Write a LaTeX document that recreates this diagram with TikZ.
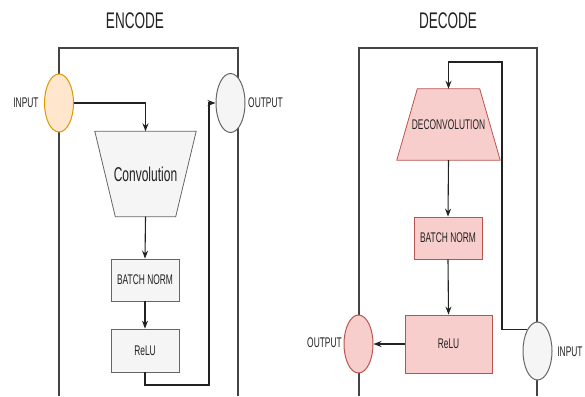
\documentclass[tikz,border=0pt]{standalone}
\usepackage{fontspec}
\setmainfont{Liberation Sans}
\newfontfamily\nf[FakeStretch=0.6]{Liberation Sans}
\usetikzlibrary{shapes.geometric,arrows.meta}
\definecolor{grayfill}{HTML}{F5F5F5}
\definecolor{graystroke}{HTML}{666666}
\definecolor{orfill}{HTML}{FFE6CC}
\definecolor{orstroke}{HTML}{D79B00}
\definecolor{pkfill}{HTML}{F8CECC}
\definecolor{pkstroke}{HTML}{B85450}
\definecolor{txt}{HTML}{222222}
\definecolor{frame}{HTML}{444444}
\tikzset{
  lbl/.style={font=\nf\fontsize{14}{16}\selectfont, text=txt, inner sep=0pt},
  ttl/.style={font=\nf\fontsize{22.6}{26}\selectfont, text=txt, inner sep=0pt},
  ell/.style={ellipse, minimum width=29pt, minimum height=58pt, inner sep=0pt, line width=1pt},
  graybox/.style={rectangle, fill=grayfill, draw=graystroke, line width=0.8pt, inner sep=0pt},
  pinkbox/.style={rectangle, fill=pkfill, draw=pkstroke, line width=0.8pt, inner sep=0pt},
  trapholder/.style={rectangle, inner sep=0pt},
  arr/.style={draw=txt, line width=1.1pt, -{Stealth[length=8pt,width=6pt]}},
  frm/.style={draw=frame, line width=1.1pt}
}
\begin{document}
\begin{tikzpicture}[x=1pt,y=-1pt]
\useasboundingbox (0,0) rectangle (585,396);
% frames
\coordinate (eBL) at (59,396);
\coordinate (eTL) at (59,48);
\coordinate (eTR) at (238,48);
\coordinate (eBR) at (238,396);
\draw[frm] (eBL) -- (eTL) -- (eTR) -- (eBR);
\coordinate (dBL) at (359,396);
\coordinate (dTL) at (359,48);
\coordinate (dTR) at (537,48);
\coordinate (dBR) at (537,396);
\draw[frm] (dBL) -- (dTL) -- (dTR) -- (dBR);
% titles
\node[ttl] (tE) at (135,21) {ENCODE};
\node[ttl] (tD) at (448,21) {DECODE};
% encode nodes
\node[ell, fill=orfill, draw=orstroke] (inE) at (59,103) {};
\node[lbl] (inEl) at (26,103) {INPUT};
\node[ell, fill=grayfill, draw=graystroke, minimum height=59pt] (outE) at (230.5,103) {};
\node[lbl] (outEl) at (265.5,103) {OUTPUT};
% convolution trapezoid (wide top)
\node[trapholder, minimum width=101pt, minimum height=85pt] (conv) at (145.5,174) {};
\draw[fill=grayfill, draw=graystroke, line width=0.8pt]
  (conv.north west) -- (conv.north east) -- ([xshift=-20.5pt]conv.south east)
  -- ([xshift=20.5pt]conv.south west) -- cycle;
\node[font=\nf\fontsize{20}{22}\selectfont, text=txt, inner sep=0pt] (convt) at (conv.center) {Convolution};
\node[graybox, minimum width=68pt, minimum height=42pt, lbl] (bnE) at (145,280) {BATCH NORM};
\node[graybox, minimum width=68pt, minimum height=43pt, lbl] (reluE) at (145,350.5) {ReLU};
% encode connectors
\draw[arr] (inE.east) -| (conv.north);
\draw[arr] (conv.south) -- (bnE.north);
\draw[arr] (bnE.south) -- (reluE.north);
\coordinate (eLoop) at (209,385);
\draw[arr] (reluE.south) |- (eLoop) |- (outE.west);
% decode nodes
\node[trapholder, minimum width=103pt, minimum height=71pt] (deconv) at (448.5,124.5) {};
\draw[fill=pkfill, draw=pkstroke, line width=0.8pt]
  ([xshift=20.5pt]deconv.north west) -- ([xshift=-20.5pt]deconv.north east)
  -- (deconv.south east) -- (deconv.south west) -- cycle;
\node[lbl] (deconvt) at (deconv.center) {DECONVOLUTION};
\node[pinkbox, minimum width=68pt, minimum height=42pt, lbl] (bnD) at (448,238) {BATCH NORM};
\node[pinkbox, minimum width=87pt, minimum height=58pt, lbl] (reluD) at (448.5,344) {ReLU};
\node[ell, fill=pkfill, draw=pkstroke] (outD) at (358.5,344) {};
\node[lbl] (outDl) at (324.5,343) {OUTPUT};
\node[ell, fill=grayfill, draw=graystroke] (inD) at (537.5,351) {};
\node[lbl] (inDl) at (570,352) {INPUT};
% decode connectors
\draw[arr] (deconv.south) -- (bnD.north);
\draw[arr] (bnD.south) -- (reluD.north);
\draw[arr, line width=1.6pt] (reluD.west) -- (outD.east);
\coordinate (dUp) at (502,62);
\draw[arr] (inD.115) -| (dUp) -| (deconv.north);
\end{tikzpicture}
\end{document}
